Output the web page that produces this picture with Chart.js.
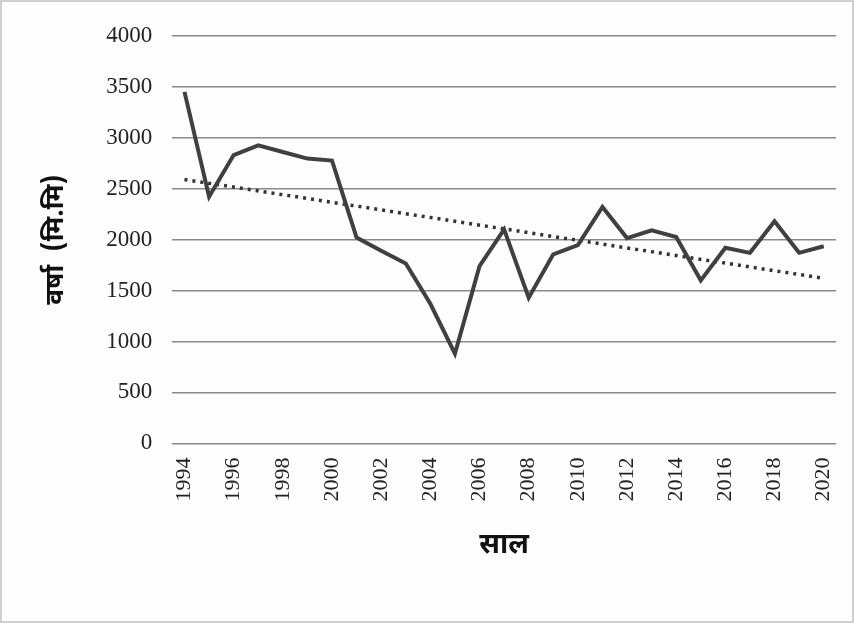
<!DOCTYPE html>
<html>
<head>
<meta charset="utf-8">
<script src="https://cdn.jsdelivr.net/npm/chart.js@4/dist/chart.umd.min.js"></script>
<style>
  html, body { margin: 0; padding: 0; background: #ffffff; }
  #wrap { position: relative; width: 854px; height: 623px; box-sizing: border-box; border: 2px solid #cfcfcf; background: #fdfdfd; }
  canvas { display: block; }
</style>
</head>
<body>
<div id="wrap"><canvas id="c" width="850" height="619"></canvas></div>
<script>
const years = ['1994','1995','1996','1997','1998','1999','2000','2001','2002','2003','2004','2005','2006','2007','2008','2009','2010','2011','2012','2013','2014','2015','2016','2017','2018','2019','2020'];
const rainfall = [3450, 2420, 2830, 2925, 2860, 2795, 2775, 2020, 1890, 1765, 1370, 880, 1740, 2100, 1430, 1855, 1945, 2320, 2015, 2090, 2025, 1600, 1920, 1870, 2180, 1870, 1935];
const trendStart = 2590;
const trendEnd = 1620;
const yTitle = 'वर्षा  (मि.मि)';
const xTitle = 'साल';

const devFont = '"Noto Sans Devanagari", "Lohit Devanagari", "Mangal", "Noto Sans", sans-serif';
const serif = '"Liberation Serif", "Times New Roman", serif';

new Chart(document.getElementById('c'), {
  type: 'line',
  data: {
    labels: years,
    datasets: [
      {
        data: rainfall,
        borderColor: '#404040',
        borderWidth: 4,
        pointRadius: 0,
        tension: 0,
        fill: false
      },
      {
        data: [{x: years[0], y: trendStart}, {x: years[years.length - 1], y: trendEnd}],
        borderColor: '#333333',
        borderWidth: 3.5,
        borderDash: [3, 5],
        pointRadius: 0,
        fill: false
      }
    ]
  },
  options: {
    responsive: false,
    animation: false,
    devicePixelRatio: 1,
    layout: { padding: { left: 41, right: 16, top: 22, bottom: 52 } },
    plugins: { legend: { display: false }, tooltip: { enabled: false } },
    scales: {
      x: {
        offset: true,
        afterFit: function(scale) { scale.paddingRight = 0; scale.paddingLeft = 0; },
        grid: { display: false, drawTicks: false },
        border: { display: false },
        ticks: {
          autoSkip: false,
          maxRotation: 90,
          minRotation: 90,
          padding: 14,
          color: '#222',
          font: { family: serif, size: 22 },
          callback: function(v, i) { return i % 2 === 0 ? this.getLabelForValue(v) : ''; }
        },
        title: { display: true, text: xTitle, color: '#111', font: { family: devFont, size: 28, weight: 'bold' }, padding: { top: 16 } }
      },
      y: {
        min: 0,
        max: 4000,
        grid: { color: '#8a8a8a', lineWidth: 1.5, drawTicks: false },
        border: { display: false },
        ticks: {
          stepSize: 500, padding: 20, color: '#222', font: { family: serif, size: 23 },
          callback: function(v) { return String(v); }
        },
        title: { display: true, text: yTitle, color: '#111', font: { family: devFont, size: 26, weight: 'bold' }, padding: { top: 0, bottom: 12 } }
      }
    }
  }
});
</script>
</body>
</html>
